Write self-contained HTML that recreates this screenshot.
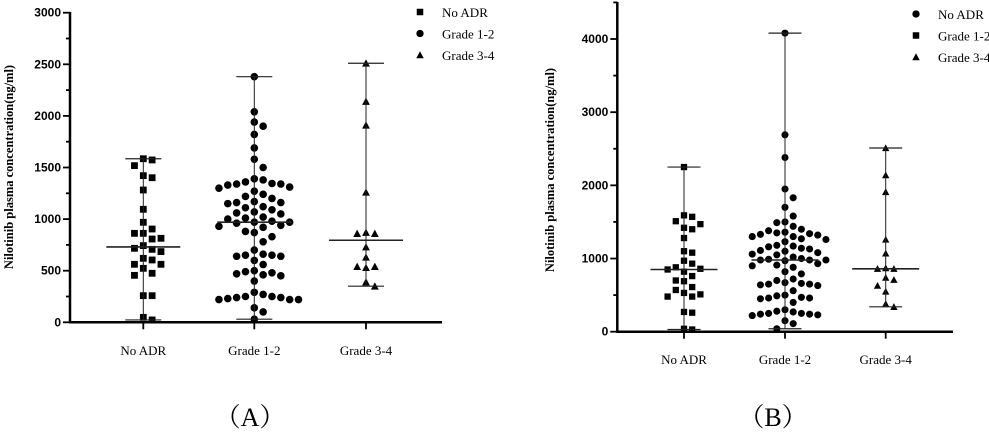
<!DOCTYPE html>
<html><head><meta charset="utf-8"><style>
body{margin:0;background:#fff;width:989px;height:433px;overflow:hidden}
svg{display:block}
.tk{font:bold 12px "Liberation Sans",sans-serif}
.cat{font:13px "Liberation Serif",serif}
.ttl{font:bold 12.5px "Liberation Serif",serif}
.lg{font:13px "Liberation Serif",serif}
.pl{font:26px "Liberation Serif","Noto Serif CJK SC",serif}
</style></head><body>
<svg id="chart" width="989" height="433" xmlns="http://www.w3.org/2000/svg"></svg>
<script>
const categories=["No ADR","Grade 1-2","Grade 3-4"];
const ticksA=[0,500,1000,1500,2000,2500,3000];
const ticksB=[0,1000,2000,3000,4000];
const aNoADR=[1585,1573,1518,1421,1401,1282,1095,969,904,862,862,814,807,743,717,707,685,620,604,562,562,523,475,455,258,258,48,23];
const aG12=[2380,2040,1940,1900,1820,1690,1580,1500,1390,1380,1360,1345,1340,1340,1330,1310,1300,1270,1240,1220,1200,1170,1160,1160,1150,1120,1110,1090,1070,1060,1050,1020,1010,1000,980,970,970,960,940,930,920,880,870,830,780,700,660,650,650,640,640,600,560,500,490,480,470,460,450,400,290,270,250,250,240,240,230,220,220,220,140,100,30];
const aG34=[2510,2140,1910,1260,870,860,860,730,630,540,540,530,390,350];
const bNoADR=[2250,1590,1570,1510,1470,1420,1400,1280,1100,1080,970,930,880,860,850,820,760,700,690,610,570,530,510,480,480,270,260,40,30];
const bG12=[4080,2690,2380,1950,1830,1700,1580,1500,1490,1440,1400,1380,1360,1350,1340,1330,1320,1300,1300,1270,1260,1230,1180,1170,1160,1140,1130,1110,1100,1080,1060,1050,1020,1000,990,980,980,980,970,930,910,900,880,820,790,720,700,670,660,650,650,640,630,560,500,490,470,460,460,450,400,300,280,270,250,250,240,240,230,220,150,110,40];
const bG34=[2510,2140,1910,1260,1070,870,860,860,740,710,630,550,380,340];
const legendA=["No ADR","Grade 1-2","Grade 3-4"], legShapesA=["sq","ci","tr"];
const legendB=["No ADR","Grade 1-2","Grade 3-4"], legShapesB=["ci","sq","tr"];
const dataShapes=["sq","ci","tr"];

const svg=document.getElementById('chart');const NS="http://www.w3.org/2000/svg";
function mk(t,a,p){const e=document.createElementNS(NS,t);for(const k in a)e.setAttribute(k,a[k]);(p||svg).appendChild(e);return e;}
function median(v){const s=[...v].sort((a,b)=>a-b),n=s.length;return n%2?s[(n-1)/2]:(s[n/2-1]+s[n/2])/2;}
function marker(shape,x,y,s,g){
  if(shape==="sq")return mk('rect',{x:x-s/2,y:y-s/2,width:s,height:s,fill:'#000'},g);
  if(shape==="ci")return mk('circle',{cx:x,cy:y,r:s/2+0.4,fill:'#000'},g);
  return mk('polygon',{points:`${x},${y-s/2-0.5} ${x-s/2-0.5},${y+s/2} ${x+s/2+0.5},${y+s/2}`,fill:'#000'},g);
}
function panel(o){
  const y=v=>o.y0-(v-0)*(o.y0-o.yTopV)/o.topV;
  const g=mk('g',{});
  mk('line',{x1:o.ax,y1:o.y0,x2:o.ax,y2:o.axTop,stroke:'#000','stroke-width':2.5},g);
  mk('line',{x1:o.ax-1,y1:o.y0,x2:o.axEnd,y2:o.y0,stroke:'#000','stroke-width':2.5},g);
  const step=o.ticks[1]-o.ticks[0];
  for(let v=0;v<=o.ticks[o.ticks.length-1]+step*(o.extra||0);v+=step/2){
    const maj=o.ticks.includes(v);
    mk('line',{x1:o.ax-(maj?7:4),y1:y(v),x2:o.ax,y2:y(v),stroke:'#000','stroke-width':1.8},g);
  }
  o.ticks.forEach(v=>{const t=mk('text',{x:o.ax-9,y:y(v)+4,'text-anchor':'end',class:'tk'},g);t.textContent=v;});
  const tt=mk('text',{x:0,y:0,class:'ttl','text-anchor':'middle',transform:`translate(${o.tx},${o.ty}) rotate(-90)`},g);tt.textContent='Nilotinib plasma concentration(ng/ml)';
  
  o.series.forEach((vals,i)=>{
    const cx=o.cx[i];
    mk('line',{x1:cx,y1:o.y0,x2:cx,y2:o.y0+7,stroke:'#000','stroke-width':1.8},g);
    const cl=mk('text',{x:cx,y:o.catY,'text-anchor':'middle',class:'cat'},g);cl.textContent=categories[i];
    
    const mx=Math.max(...vals),mn=Math.min(...vals),md=median(vals);
    const placed=[];const s=o.ms;const dx=s*1.3, vy=s*1.45;
    const sorted=[...vals].sort((a,b)=>b-a);
    sorted.forEach(v=>{const py=y(v);let off=0,best=1e9;
      for(let k=0;k<=12;k++){const c=k===0?0:(k%2?1:-1)*Math.ceil(k/2)*dx;
        const n=placed.filter(p=>Math.abs(p[0]-c)<dx*0.9&&Math.abs(p[1]-py)<vy).length;
        if(n<best){best=n;off=c;} if(n===0)break;}
      placed.push([off,py]);
      const m=marker(dataShapes[i],cx+off,py,s,g);});
    mk('line',{x1:cx,y1:y(mx),x2:cx,y2:y(mn),stroke:'#222','stroke-width':1},g);
    mk('line',{x1:cx-o.cap,y1:y(mx),x2:cx+o.cap,y2:y(mx),stroke:'#222','stroke-width':1.2},g);
    mk('line',{x1:cx-o.cap,y1:y(mn),x2:cx+o.cap,y2:y(mn),stroke:'#222','stroke-width':1.2},g);
    mk('line',{x1:cx-o.med,y1:y(md),x2:cx+o.med,y2:y(md),stroke:'#222','stroke-width':1.6},g);
    const ly=o.legY+i*21.5;
    marker(o.legShapes[i],o.legX,ly,6.5,g);
    const lt=mk('text',{x:o.legX+22,y:ly+5,class:'lg'},g);lt.textContent=o.legend[i];
    
  });
  const pl=mk('text',{x:o.plX,y:426,'text-anchor':'middle',class:'pl'},g);pl.textContent=o.label;
  
}
panel({name:'panel-a',ax:70,axTop:12,axEnd:442,y0:322.3,yTopV:12.7,topV:3000,ticks:ticksA,extra:0,
  series:[aNoADR,aG12,aG34],legShapes:legShapesA,cx:[143.3,254.3,366],ms:6.8,cap:18,med:37,
  catY:355,tx:13,ty:167,legX:420,legY:12,legend:legendA,label:'（A）',plX:250});
panel({name:'panel-b',ax:617.3,axTop:2,axEnd:953,y0:331.7,yTopV:39,topV:4000,ticks:ticksB,extra:0.5,
  series:[bNoADR,bG12,bG34],legShapes:legShapesB,cx:[684,785,885.7],ms:6.3,cap:16.5,med:33.5,
  catY:364,tx:554,ty:170,legX:916,legY:14,legend:legendB,label:'（B）',plX:773});
</script>
</body></html>
